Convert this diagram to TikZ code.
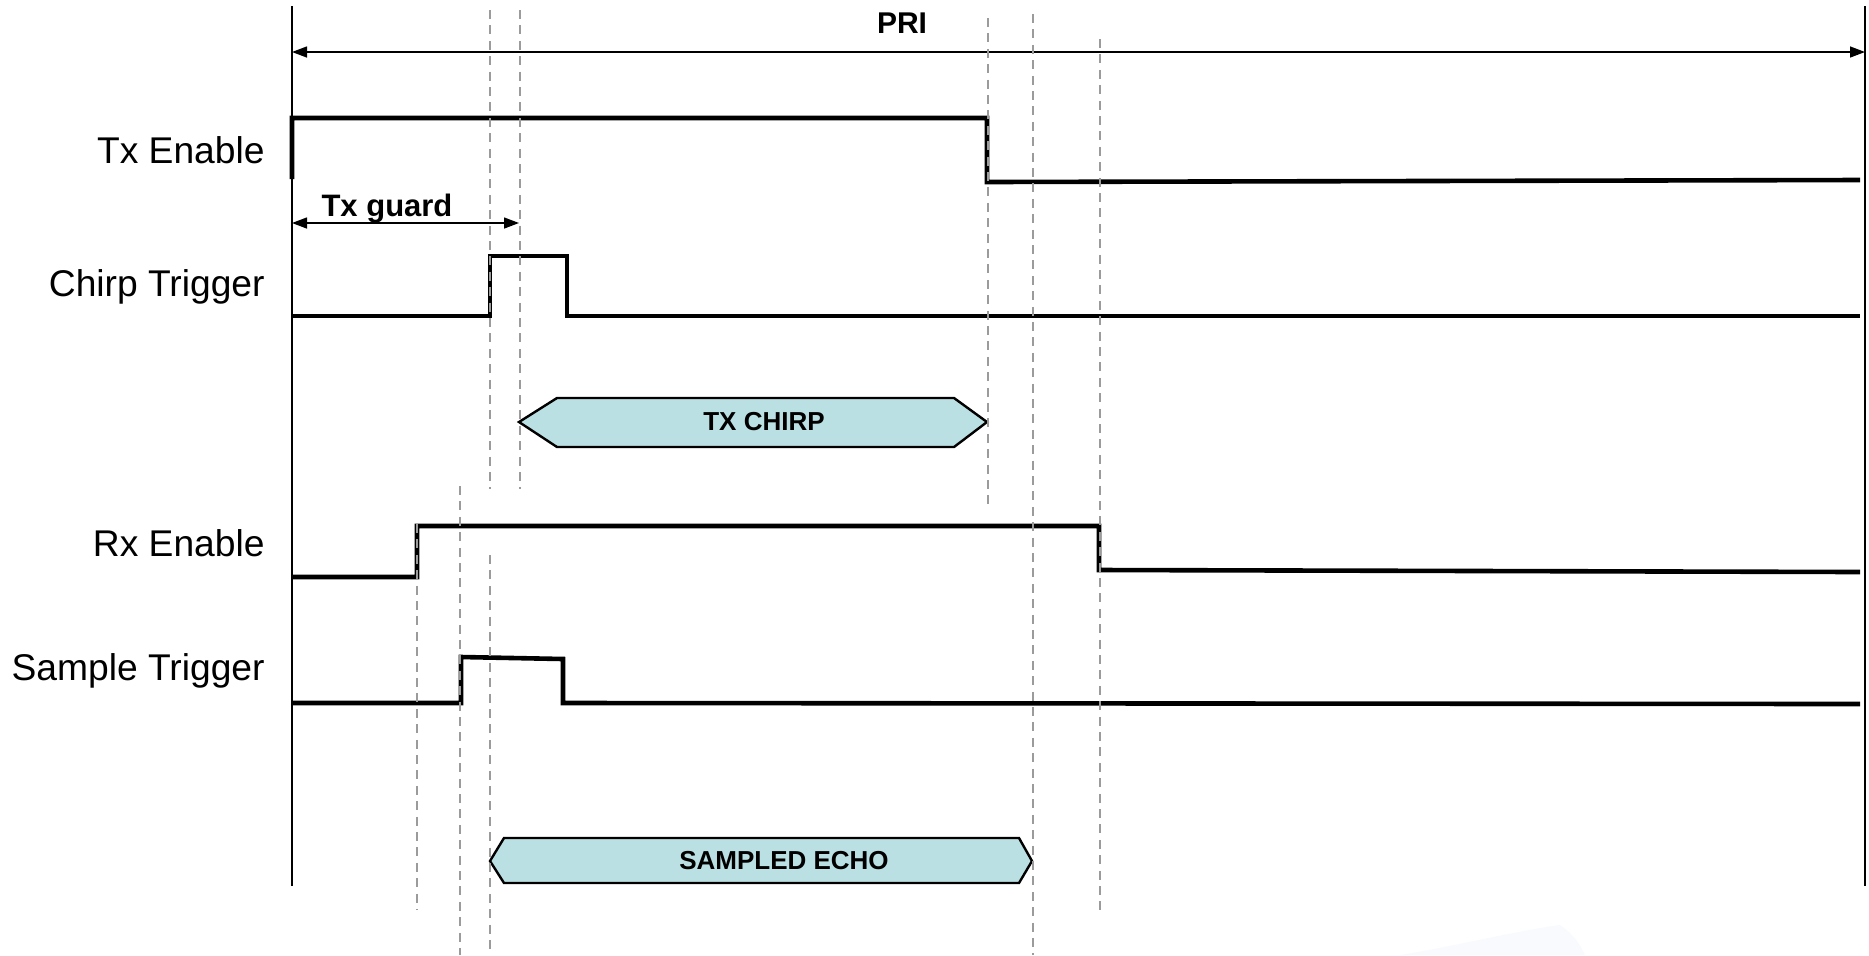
\documentclass[tikz,border=0pt]{standalone}
\usepackage{fontspec}
\setmainfont{Liberation Sans}
\usetikzlibrary{arrows.meta}
\definecolor{phasefill}{RGB}{186,224,227}
\definecolor{guidegray}{RGB}{155,155,155}
\definecolor{hazeblue}{RGB}{232,240,252}
\begin{document}
\begin{tikzpicture}[x=0.5pt,y=-0.5pt,
  axis/.style={line width=0.8pt},
  signal/.style={line width=2.3pt, line join=miter},
  guide/.style={draw=guidegray, line width=0.9pt, dash pattern=on 4.5pt off 3.2pt},
  dim/.style={line width=0.7pt, {Triangle[length=7.5pt,width=5.5pt]}-{Triangle[length=7.5pt,width=5.5pt]}},
  siglabel/.style={anchor=base east, inner sep=0pt, font=\fontsize{18.6}{20}\selectfont},
  boldlabel/.style={anchor=base, inner sep=0pt, font=\bfseries\fontsize{15.5}{17}\selectfont},
  phase/.style={fill=phasefill, draw=black, line width=1.2pt, line join=miter},
  phasetext/.style={anchor=base, inner sep=0pt, font=\bfseries\fontsize{13}{15}\selectfont}
]
\useasboundingbox (0,0) rectangle (1869,955);

% faint tint near the lower edge
\fill[hazeblue, opacity=0.3] (1400,955) .. controls (1460,945) and (1520,930) .. (1560,925)
  .. controls (1575,935) and (1580,945) .. (1585,955) -- cycle;

% period boundaries
\draw[axis] (292,6) -- (292,886);
\draw[axis] (1865,6) -- (1865,886);

% pulse repetition interval
\coordinate (priL) at (292,52);
\coordinate (priR) at (1865,52);
\draw[dim] (priL) -- (priR);
\node[boldlabel, font=\bfseries\fontsize{15}{17}\selectfont] (pri) at (902,33) {PRI};

% signal names
\node[siglabel] (lbltx) at (265,163) {Tx Enable};
\node[siglabel] (lblchirp) at (265,296) {Chirp Trigger};
\node[siglabel] (lblrx) at (265,556) {Rx Enable};
\node[siglabel] (lblsample) at (265,680) {Sample Trigger};

% Tx Enable
\draw[signal] (292,179) -- (292,118) -- (987,118) -- (987,182) -- (1860,180);

% Tx guard interval
\coordinate (gdL) at (292,223);
\coordinate (gdR) at (519,223);
\draw[dim] (gdL) -- (gdR);
\node[boldlabel] (txguard) at (387,216) {Tx guard};

% Chirp Trigger
\draw[signal] (292,316) -- (490,316) -- (490,256) -- (567,256) -- (567,316) -- (1860,316);

% transmitted chirp window
\draw[phase] (519,422) -- (557,398) -- (954,398) -- (987,422) -- (954,447) -- (557,447) -- cycle;
\node[phasetext] (txchirp) at (764,430) {TX CHIRP};

% Rx Enable
\draw[signal] (292,577) -- (417,577) -- (417,526) -- (1099,526) -- (1099,570) -- (1860,572);

% Sample Trigger
\draw[signal] (292,703) -- (461,703) -- (461,657) -- (563,659) -- (563,703) -- (1860,704);

% sampled echo window
\draw[phase] (490,861) -- (504,838) -- (1019,838) -- (1032,861) -- (1019,883) -- (504,883) -- cycle;
\node[phasetext] (echo) at (784,869) {SAMPLED ECHO};

% timing guides
\draw[guide] (417,524) -- (417,910);
\draw[guide] (460,486) -- (460,955);
\draw[guide] (490,10) -- (490,489);
\draw[guide] (490,555) -- (490,955);
\draw[guide] (520,10) -- (520,489);
\draw[guide] (988,18) -- (988,507);
\draw[guide] (1033,14) -- (1033,955);
\draw[guide] (1100,39) -- (1100,910);
\end{tikzpicture}
\end{document}
